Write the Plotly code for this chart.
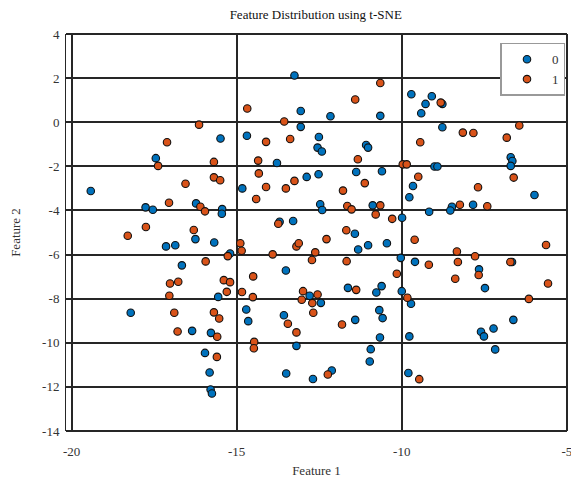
import plotly.graph_objects as go

# Class 0 (blue)
x0 = [-15.49, -17.45, -19.42, -17.76, -17.54, -16.23, -15.44, -15.45,
      -17.14, -16.86, -16.25, -15.68, -15.20, -16.66, -15.56, -18.21, -16.35, -15.78, -15.96, -15.82, -15.79, -15.75,
      -13.25, -13.06, -12.16, -10.65, -13.06, -14.69, -12.51, -12.55, -12.42, -11.08, -11.02, -13.78, -11.38, -10.60,
      -14.83, -12.88, -12.52, -12.47, -12.41, -10.88, -9.99, -13.70, -13.29, -11.42,
      -9.71, -9.09, -9.28, -8.77, -9.41, -8.77, -6.70, -6.65, -6.70, -9.01, -8.92, -9.66, -5.98, -9.77, -8.48, -8.53,
      -7.84, -9.17,
      -11.32, -11.02, -10.45, -10.03, -13.51, -12.79, -12.45, -11.63, -10.77, -10.61, -10.00, -14.71, -14.65, -13.57,
      -11.41, -10.68, -10.58, -10.66, -13.19, -10.94, -10.97, -13.50, -12.69, -12.12,
      -9.60, -7.66, -6.66, -7.48, -9.72, -6.62, -7.22, -7.60, -7.51, -9.77, -7.17, -9.80]
y0 = [-0.74, -1.63, -3.12, -3.86, -3.97, -3.68, -3.94, -4.15,
      -5.63, -5.58, -5.30, -5.45, -5.95, -6.49, -7.92, -8.64, -9.46, -9.55, -10.46, -11.35, -12.12, -12.30,
      2.12, 0.51, 0.27, 0.29, -0.21, -0.61, -0.67, -1.15, -1.33, -1.03, -1.15, -1.85, -2.26, -2.22,
      -3.00, -2.48, -2.36, -3.72, -3.98, -3.77, -4.33, -4.51, -4.48, -5.06,
      1.27, 1.18, 0.83, 0.83, 0.41, -0.23, -1.59, -1.76, -1.98, -2.01, -2.01, -2.89, -3.30, -3.40, -3.83, -4.00,
      -3.74, -4.06,
      -5.77, -5.58, -5.49, -6.15, -6.72, -7.87, -8.19, -7.51, -7.72, -7.43, -7.66, -8.49, -9.02, -8.75,
      -8.96, -8.52, -8.88, -9.76, -10.14, -10.29, -10.85, -11.39, -11.64, -11.26,
      -6.33, -6.67, -6.34, -7.52, -8.23, -8.96, -9.35, -9.50, -9.71, -9.71, -10.30, -11.37]

# Class 1 (orange)
x1 = [-16.14, -17.11, -17.38, -15.69, -15.69, -15.50, -16.55, -17.05, -16.10, -15.96, -17.75, -16.30, -18.30,
      -15.27, -15.94, -17.02, -16.77, -15.39, -15.20, -15.30, -17.04, -16.89, -15.69, -15.53, -16.79, -15.59, -15.60,
      -10.65, -11.41, -14.68, -13.56, -14.11, -13.38, -11.33, -14.35, -9.97, -9.85, -14.33, -14.11, -13.51, -13.25,
      -11.12, -11.78, -14.41, -11.65, -11.52, -10.65, -10.79, -10.29, -13.74, -11.68,
      -8.82, -8.15, -7.83, -6.44, -6.82, -9.44, -6.61, -9.50, -7.69, -8.24, -7.41,
      -14.89, -14.85, -13.19, -13.12, -12.28, -13.91, -12.62, -12.72, -11.67, -10.15, -14.50, -14.84, -14.51,
      -12.99, -12.55, -13.03, -12.71, -12.68, -11.38, -13.45, -13.19, -11.81, -14.47, -14.48, -12.24,
      -9.61, -5.63, -9.18, -8.33, -8.30, -7.78, -7.67, -8.38, -6.71, -5.57, -9.83, -6.15, -9.47]
y1 = [-0.11, -0.91, -1.98, -1.80, -2.50, -2.63, -2.79, -3.65, -3.83, -4.04, -4.75, -4.89, -5.15,
      -6.07, -6.31, -7.31, -7.23, -7.16, -7.25, -7.69, -7.87, -8.64, -8.62, -8.90, -9.49, -9.73, -10.64,
      1.78, 1.03, 0.62, 0.03, -0.89, -0.76, -1.68, -1.74, -1.91, -1.91, -2.32, -2.94, -3.00, -2.66,
      -2.76, -3.10, -3.48, -3.80, -3.95, -3.77, -4.18, -4.38, -4.60, -4.90,
      0.89, -0.47, -0.49, -0.15, -0.70, -0.91, -2.51, -2.47, -2.95, -3.74, -3.81,
      -5.49, -5.83, -5.63, -5.49, -5.30, -5.99, -5.90, -6.25, -6.30, -6.87, -6.99, -7.70, -7.93,
      -7.66, -7.81, -8.05, -8.20, -8.64, -7.60, -9.14, -9.53, -9.17, -9.96, -10.25, -11.44,
      -5.33, -5.57, -6.46, -5.86, -6.34, -6.08, -6.93, -7.10, -6.34, -7.31, -7.96, -8.01, -11.65]

x_ticks = [-20, -15, -10, -5]
y_ticks = [4, 2, 0, -2, -4, -6, -8, -10, -12, -14]

FONT = "Liberation Serif, Times New Roman, serif"
GRID = "#262626"

fig = go.Figure()
fig.add_trace(go.Scatter(x=x0, y=y0, mode="markers", name="0",
                         marker=dict(size=7.5, color="#0072BD", line=dict(color="#111111", width=1.1))))
fig.add_trace(go.Scatter(x=x1, y=y1, mode="markers", name="1",
                         marker=dict(size=7.5, color="#D95319", line=dict(color="#111111", width=1.1))))

# frame lines at the edge grid positions (top, bottom, right)
for (xa, ya, xb, yb) in [(0, 1, 1, 1), (0, 0, 1, 0), (1, 0, 1, 1)]:
    fig.add_shape(type="line", xref="paper", yref="paper", x0=xa, y0=ya, x1=xb, y1=yb,
                  line=dict(color=GRID, width=2), layer="above")

fig.update_layout(
    width=571, height=481,
    margin=dict(l=66, r=4, t=34, b=50, autoexpand=False),
    paper_bgcolor="white", plot_bgcolor="white",
    font=dict(family=FONT, size=12, color="#333333"),
    title=dict(text="Feature Distribution using t-SNE", x=0.553, xanchor="center", y=0.97, yanchor="middle",
               font=dict(family=FONT, size=13, color="#111111")),
    xaxis=dict(range=[-20.17, -4.995], tickvals=x_ticks, ticktext=[str(v) for v in x_ticks],
               automargin=False,
               showgrid=True, gridcolor=GRID, gridwidth=2, zeroline=False, showline=False,
               ticks="outside", ticklen=8, tickcolor="rgba(0,0,0,0)", ticklabeloverflow="allow",
               tickfont=dict(family=FONT, size=13, color="#333333"),
               title=dict(text="Feature 1", font=dict(family=FONT, size=13, color="#333333"), standoff=8)),
    yaxis=dict(range=[-14, 4], tickvals=y_ticks, ticktext=[str(v) for v in y_ticks],
               automargin=False,
               showgrid=True, gridcolor=GRID, gridwidth=2, zeroline=False,
               showline=True, linecolor=GRID, linewidth=1,
               ticks="outside", ticklen=3, tickcolor="rgba(0,0,0,0)",
               tickfont=dict(family=FONT, size=13, color="#333333"),
               title=dict(text="Feature 2", font=dict(family=FONT, size=13, color="#333333"), standoff=18)),
    legend=dict(x=0.997, xanchor="right", y=0.978, yanchor="top",
                bgcolor="white", bordercolor="#999999", borderwidth=1.5, tracegroupgap=0,
                font=dict(family=FONT, size=13, color="#333333"), itemwidth=40),
    showlegend=True,
)

fig.write_html("out.html")
